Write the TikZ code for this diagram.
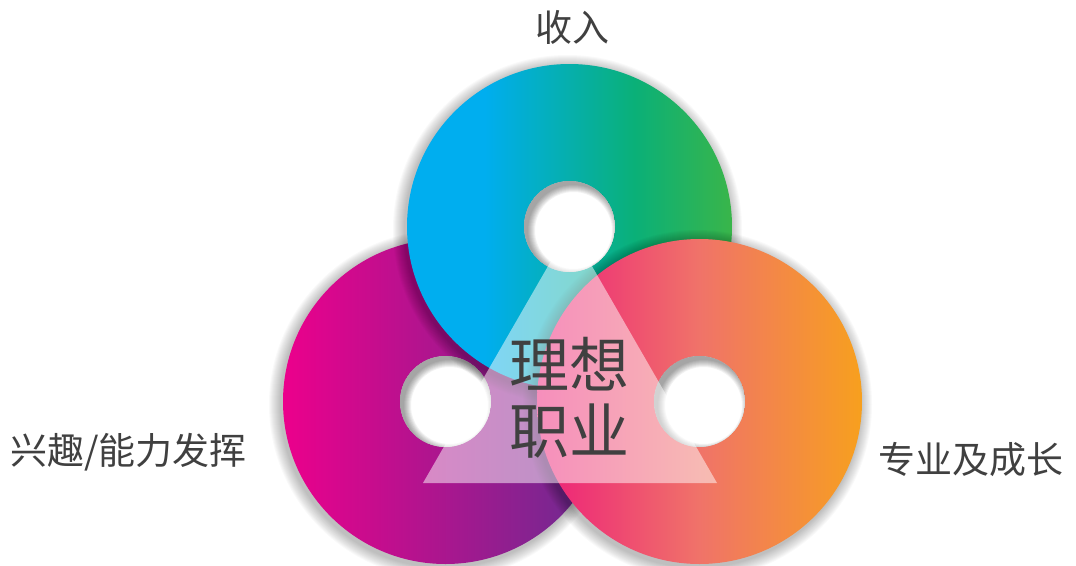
\documentclass[tikz,border=0pt]{standalone}
\usepackage{fontspec}
\newfontfamily\cjk{Noto Sans CJK SC}
\definecolor{txt}{RGB}{64,64,64}
\definecolor{lringL}{RGB}{236,0,140}
\definecolor{lringR}{RGB}{102,45,145}
\pgfdeclarehorizontalshading{topshade}{100bp}{rgb(0bp)=(0,0.682,0.937); rgb(37bp)=(0,0.682,0.937); rgb(60bp)=(0.04,0.69,0.47); rgb(75bp)=(0.224,0.71,0.29); rgb(100bp)=(0.224,0.71,0.29)}
\pgfdeclarehorizontalshading{rightshade}{100bp}{rgb(0bp)=(0.929,0.118,0.475); rgb(25bp)=(0.929,0.118,0.475); rgb(50bp)=(0.941,0.451,0.412); rgb(75bp)=(0.969,0.627,0.118); rgb(100bp)=(0.969,0.627,0.118)}
\tikzset{
  ringshadow/.style={fill=black,opacity=0.022},
  holeshadow/.style={fill=black,opacity=0.05,even odd rule},
  label/.style={text=txt,font=\cjk\fontsize{37}{44}\selectfont,inner sep=0pt},
  centertext/.style={text=txt,font=\cjk\fontsize{60}{66}\selectfont,align=center,inner sep=0pt},
  veil/.style={fill=white,opacity=0.5}
}
\begin{document}
\begin{tikzpicture}[x=1pt,y=-1pt]
\useasboundingbox (0,0) rectangle (1076,565);
\coordinate (L) at (445.5,401.5);
\coordinate (T) at (569.5,226.5);
\coordinate (R) at (699.5,401.5);
\coordinate (A) at (570,228);
\coordinate (B) at (423,483);
\coordinate (C) at (717,483);
% left ring
\foreach \k in {1,...,12}
  \fill[ringshadow] ([xshift=-2pt,yshift=-3pt]L) circle[radius={(162.5+\k)*1pt}];
\path[left color=lringL,right color=lringR,even odd rule] (L) circle[radius=162.5pt] (L) circle[radius=45.5pt];
\begin{scope}
  \clip (L) circle[radius=45.5pt];
  \fill[white] (L) circle[radius=46pt];
  \foreach \k in {0,...,7}
    \fill[holeshadow] (L) circle[radius=60pt] ([xshift=4pt,yshift=-4pt]L) circle[radius={(45.5-\k)*1pt}];
\end{scope}
% top ring
\foreach \k in {1,...,12}
  \fill[ringshadow] ([xshift=-2pt,yshift=-3pt]T) circle[radius={(162.5+\k)*1pt}];
\path[shading=topshade,even odd rule] (T) circle[radius=162.5pt] (T) circle[radius=45.5pt];
\begin{scope}
  \clip (T) circle[radius=45.5pt];
  \fill[white] (T) circle[radius=46pt];
  \foreach \k in {0,...,7}
    \fill[holeshadow] (T) circle[radius=60pt] ([xshift=4pt,yshift=-4pt]T) circle[radius={(45.5-\k)*1pt}];
\end{scope}
% right ring
\foreach \k in {1,...,12}
  \fill[ringshadow] ([xshift=-2pt,yshift=-3pt]R) circle[radius={(162.5+\k)*1pt}];
\path[shading=rightshade,even odd rule] (R) circle[radius=162.5pt] (R) circle[radius=45.5pt];
\begin{scope}
  \clip (R) circle[radius=45.5pt];
  \fill[white] (R) circle[radius=46pt];
  \foreach \k in {0,...,7}
    \fill[holeshadow] (R) circle[radius=60pt] ([xshift=4pt,yshift=-4pt]R) circle[radius={(45.5-\k)*1pt}];
\end{scope}
% triangle
\fill[veil] (A) -- (B) -- (C) -- cycle;
% texts
\node[centertext] (mid) at (569,398) {理想\\职业};
\node[label] (top) at (572,27) {收入};
\node[label,anchor=west,font=\cjk\fontsize{37}{44}\selectfont] (left) at (10,452) {兴趣/能力发挥};
\node[label] (right) at (970.5,460) {专业及成长};
\end{tikzpicture}
\end{document}
